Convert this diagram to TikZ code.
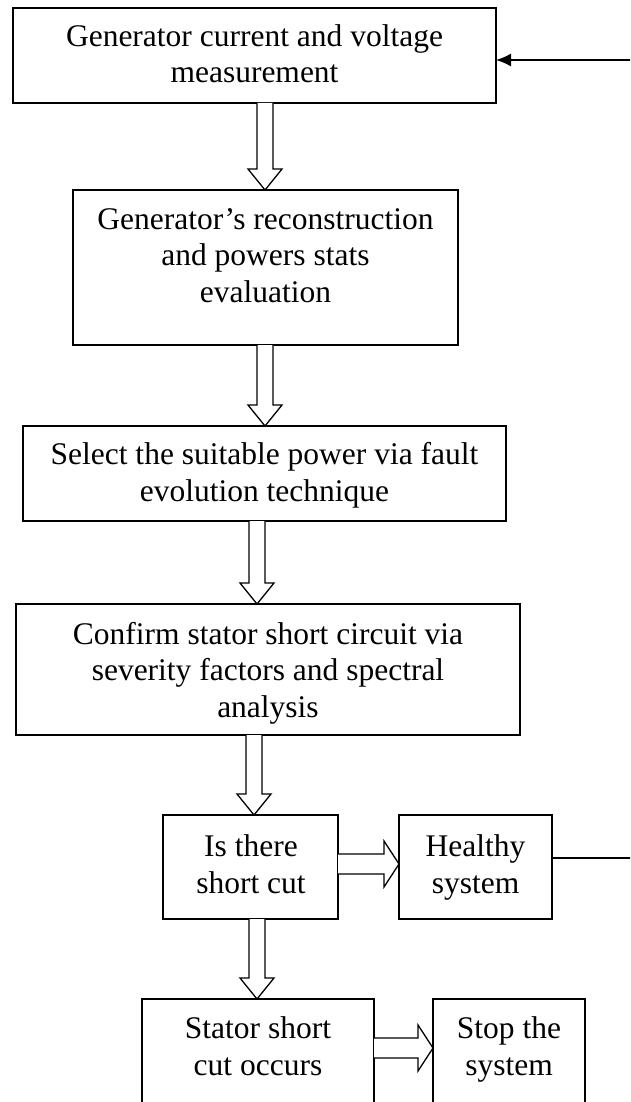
\documentclass[tikz,border=0pt]{standalone}
\usepackage{fontspec}
\setmainfont{Liberation Serif}
\usetikzlibrary{calc,arrows.meta}
\tikzset{
  box/.style={draw, line width=1.3pt, rectangle, inner sep=0pt, outer sep=0pt},
  txt/.style={align=center, font=\fontsize{31.5}{36.5}\selectfont, inner sep=0pt, anchor=base},
  blk/.style={draw, line width=1.3pt, fill=white, line join=miter},
  plainline/.style={line width=1.3pt}
}
\newcommand{\boxat}[5]{%
  \node[box, minimum width={#4-#2}, minimum height={#5-#3}] (#1) at ({(#2+#4)/2},{(#3+#5)/2}) {};}
\newcommand{\downblock}[3]{%
  \draw[blk] let \p1=(#2.south), \p2=(#3.north) in
  ({#1pt-8pt},\y1) -- ({#1pt-8pt},{\y2+21pt}) -- ({#1pt-17pt},{\y2+21pt}) -- ({#1pt},\y2)
  -- ({#1pt+17pt},{\y2+21pt}) -- ({#1pt+8pt},{\y2+21pt}) -- ({#1pt+8pt},\y1);}
\newcommand{\rightblock}[3]{%
  \draw[blk] let \p1=(#2.east), \p2=(#3.west) in
  (\x1,{-#1pt+10pt}) -- ({\x2-15pt},{-#1pt+10pt}) -- ({\x2-15pt},{-#1pt+23pt}) -- (\x2,{-#1pt})
  -- ({\x2-15pt},{-#1pt-23pt}) -- ({\x2-15pt},{-#1pt-10pt}) -- (\x1,{-#1pt-10pt});}
\begin{document}
\begin{tikzpicture}[x=1pt,y=-1pt]
\useasboundingbox (0,0) rectangle (630,1102);
\fill[white] (0,0) rectangle (630,1102);
\clip (0,0) rectangle (630,1102);

\boxat{b1}{13}{8}{496}{103}
\boxat{b2}{73}{190}{458}{345}
\boxat{b3}{23}{426}{506}{521}
\boxat{b4}{16}{604}{520}{735}
\boxat{b5}{163}{815}{338}{919}
\boxat{h}{399}{815}{552}{919}
\boxat{b6}{142}{999}{374}{1140}
\boxat{s}{433}{999}{585}{1140}

\node[txt] (t1) at (254.5,83) {Generator current and voltage\\measurement};
\node[txt] (t2) at (265.5,302) {Generator’s reconstruction\\and powers stats\\evaluation};
\node[txt] (t3) at (264.5,501) {Select the suitable power via fault\\evolution technique};
\node[txt] (t4) at (268,717) {Confirm stator short circuit via\\severity factors and spectral\\analysis};
\node[txt] (t5) at (251,893) {Is there\\short cut};
\node[txt] (t6) at (475.5,893) {Healthy\\system};
\node[txt] (t7) at (258,1075) {Stator short\\cut occurs};
\node[txt] (t8) at (509,1075) {Stop the\\system};

\downblock{265}{b1}{b2}
\downblock{265}{b2}{b3}
\downblock{257}{b3}{b4}
\downblock{254}{b4}{b5}
\downblock{257}{b5}{b6}
\rightblock{864}{b5}{h}
\rightblock{1048}{b6}{s}

\coordinate (in1) at (632,60);
\draw[plainline, -{Latex[length=15pt,width=13pt]}] (in1) -- (in1 -| b1.east);
\coordinate (out1) at (632,858);
\draw[plainline] (out1 -| h.east) -- (out1);
\end{tikzpicture}
\end{document}
